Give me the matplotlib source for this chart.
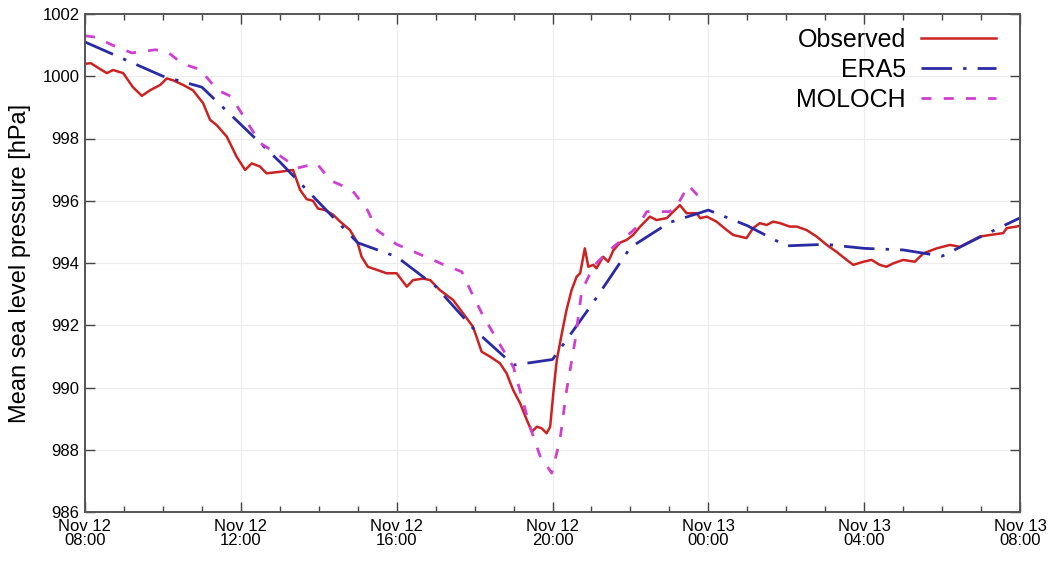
import numpy as np
import pandas as pd
import matplotlib
matplotlib.use("Agg")
import matplotlib.pyplot as plt
import matplotlib.dates as mdates

plt.rcParams["font.family"] = ["Liberation Sans", "DejaVu Sans"]

START = pd.Timestamp("2019-11-12 08:00")

# Observed station pressure (hours after start, hPa)
obs_hours = [0.0, 0.15, 0.3, 0.56, 0.72, 0.98, 1.23, 1.46, 1.67, 1.93, 2.1, 2.26,
             2.52, 2.77, 3.03, 3.21, 3.38, 3.64, 3.89, 4.11, 4.28, 4.49, 4.66,
             5.0, 5.34, 5.52, 5.69, 5.85, 5.98, 6.16, 6.37, 6.55, 6.8, 7.0, 7.1,
             7.26, 7.49, 7.74, 8.0, 8.26, 8.42, 8.68, 8.86, 9.11, 9.45, 9.7,
             9.96, 10.05, 10.18, 10.4, 10.65, 10.82, 10.99, 11.17, 11.34, 11.47,
             11.6, 11.72, 11.85, 11.94, 12.02, 12.11, 12.24, 12.36, 12.49, 12.62,
             12.71, 12.83, 12.92, 13.05, 13.13, 13.3, 13.43, 13.56, 13.73, 13.9,
             14.07, 14.25, 14.5, 14.67, 14.93, 15.1, 15.27, 15.44, 15.7, 15.79,
             15.96, 16.21, 16.47, 16.64, 16.98, 17.15, 17.32, 17.5, 17.66, 17.84,
             18.09, 18.27, 18.52, 18.78, 19.04, 19.29, 19.55, 19.72, 19.98, 20.19,
             20.4, 20.57, 20.75, 21.0, 21.3, 21.52, 21.86, 22.2, 22.46, 22.72,
             22.97, 23.23, 23.57, 23.66, 23.91, 24.0]
obs_hpa = [1000.4, 1000.42, 1000.3, 1000.1, 1000.2, 1000.1, 999.65, 999.37, 999.55,
           999.72, 999.93, 999.87, 999.72, 999.55, 999.14, 998.6, 998.43, 998.06,
           997.42, 996.99, 997.2, 997.1, 996.88, 996.93, 996.99, 996.35, 996.05,
           996.0, 995.75, 995.7, 995.55, 995.33, 995.06, 994.64, 994.2, 993.88,
           993.78, 993.67, 993.67, 993.24, 993.45, 993.5, 993.45, 993.13, 992.81,
           992.39, 991.95, 991.63, 991.15, 990.99, 990.78, 990.46, 989.92, 989.49,
           988.96, 988.58, 988.74, 988.69, 988.53, 988.74, 989.81, 990.88, 991.74,
           992.49, 993.13, 993.56, 993.67, 994.47, 993.88, 993.94, 993.83, 994.2,
           994.04, 994.4, 994.65, 994.74, 994.9, 995.17, 995.49, 995.38, 995.44,
           995.65, 995.86, 995.6, 995.6, 995.44, 995.49, 995.33, 995.06, 994.9,
           994.8, 995.12, 995.28, 995.22, 995.33, 995.28, 995.17, 995.17, 995.06,
           994.85, 994.58, 994.36, 994.1, 993.94, 994.04, 994.1, 993.94, 993.88,
           993.99, 994.1, 994.04, 994.31, 994.47, 994.58, 994.52, 994.69, 994.85,
           994.9, 994.96, 995.12, 995.17, 995.2]

# ERA5 reanalysis, hourly
era5_hours = list(range(25))
era5_hpa = [1001.1, 1000.55, 1000.0, 999.65, 998.45, 997.25, 995.95, 994.65, 994.2,
            993.25, 991.85, 990.72, 990.9, 992.65, 994.5, 995.3, 995.7, 995.2,
            994.55, 994.6, 994.47, 994.42, 994.22, 994.85, 995.45]

# MOLOCH model forecast
moloch_hours = [0.0, 0.3, 0.7, 1.2, 1.8, 2.1, 2.5, 3.0, 3.1, 3.4, 3.75, 3.9, 4.5,
                5.0, 5.45, 5.95, 6.3, 6.85, 7.25, 7.5, 8.0, 8.65, 9.2, 9.67, 9.96,
                10.22, 10.57, 11.0, 11.42, 11.68, 11.98, 12.19, 12.36, 12.58, 12.75,
                12.96, 13.13, 13.5, 14.03, 14.2, 14.42, 15.0, 15.18, 15.4, 15.49,
                15.79, 15.96]
moloch_hpa = [1001.3, 1001.25, 1001.0, 1000.75, 1000.85, 1000.8, 1000.4, 1000.2,
              1000.0, 999.56, 999.35, 999.05, 997.85, 997.45, 997.05, 997.2, 996.65,
              996.35, 995.7, 995.05, 994.6, 994.25, 993.95, 993.72, 992.95, 992.3,
              991.55, 990.65, 988.75, 987.8, 987.25, 988.3, 989.9, 991.5, 993.1,
              993.65, 994.0, 994.45, 995.0, 995.2, 995.65, 995.65, 995.8, 996.3,
              996.5, 996.08, 995.97]

xtick_hours = [0, 4, 8, 12, 16, 20, 24]
ytick_values = [986, 988, 990, 992, 994, 996, 998, 1000, 1002]


def to_time(hours):
    return START + pd.to_timedelta(np.asarray(hours, dtype=float), unit="h")


fig = plt.figure(figsize=(10.53, 5.61), dpi=100)
ax = fig.add_axes([85 / 1053, 1 - 512 / 561, (1020 - 85) / 1053, (512 - 14) / 561])

ax.plot(to_time(obs_hours), obs_hpa, color="#cc2222", lw=1.8, label="Observed")
ax.plot(to_time(era5_hours), era5_hpa, color="#2a2aa6", lw=2.0,
        linestyle=(0, (11, 4, 1.2, 4)), label="ERA5")
ax.plot(to_time(moloch_hours), moloch_hpa, color="#d040d0", lw=2.0,
        linestyle=(0, (3.6, 4.4)), label="MOLOCH")

ax.set_xlim(to_time([0])[0], to_time([24])[0])
ax.set_ylim(986, 1002)

xt = to_time(xtick_hours)
ax.set_xticks(xt)
labels = ax.set_xticklabels([t.strftime("%b %d\n%H:%M") for t in xt], fontsize=12)
for lb in labels:
    lb.set_linespacing(0.95)
ax.xaxis.set_minor_locator(mdates.HourLocator(interval=1))
ax.set_yticks(ytick_values)
ax.set_yticklabels([str(v) for v in ytick_values], fontsize=12)

ax.tick_params(which="both", direction="in", top=True, right=True, color="#444444")
ax.tick_params(which="major", length=7, width=1.0, pad=4)
ax.tick_params(axis="x", which="major", pad=5)
ax.tick_params(which="minor", length=4, width=1.0)

ax.grid(True, which="major", color="#ececec", lw=0.8)
ax.set_axisbelow(True)
for sp in ax.spines.values():
    sp.set_color("#555555")
    sp.set_linewidth(1.4)

ax.set_ylabel("Mean sea level pressure [hPa]", fontsize=17, labelpad=8)

leg = ax.legend(loc="upper right", bbox_to_anchor=(0.993, 1.008), frameon=False,
                markerfirst=False, fontsize=18, handlelength=3.0,
                handletextpad=0.6, labelspacing=0.25, borderaxespad=0.3)

fig.savefig("out.png", dpi=100)
